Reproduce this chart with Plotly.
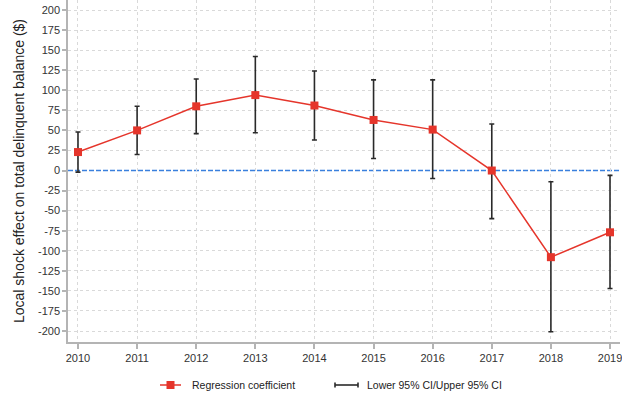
import plotly.graph_objects as go

# Event-study estimates by year
years = [2010, 2011, 2012, 2013, 2014, 2015, 2016, 2017, 2018, 2019]
coef = [23, 50, 80, 94, 81, 63, 51, 0, -108, -77]
ci_lower = [-2, 20, 46, 47, 38, 15, -10, -60, -201, -147]
ci_upper = [48, 80, 114, 142, 124, 113, 113, 58, -14, -6]

y_ticks = list(range(200, -201, -25))
y_tick_labels = [str(v) for v in y_ticks]  # plain hyphen for negatives
grid_ticks = [v for v in y_ticks if v != 0]  # zero gets the dashed reference line instead

err_plus = [u - c for u, c in zip(ci_upper, coef)]
err_minus = [c - l for c, l in zip(coef, ci_lower)]

FONT = "Liberation Sans, Arial, sans-serif"
RED = "#e5352b"
BAR = "#2a2a2a"
AXIS = "#b4b4b4"
GRID = "#d9d9d9"
Y_RANGE = [-213.7, 212.5]

fig = go.Figure()

# 95% confidence intervals
fig.add_trace(go.Scatter(
    x=years, y=coef, mode="markers",
    marker=dict(size=1, color="rgba(0,0,0,0)"),
    error_y=dict(type="data", symmetric=False, array=err_plus, arrayminus=err_minus,
                 color=BAR, thickness=1.6, width=2.5),
    showlegend=False, hoverinfo="skip",
))

# Point estimates (on the overlay axis, which shares the same range)
fig.add_trace(go.Scatter(
    x=years, y=coef, mode="lines+markers", yaxis="y2",
    line=dict(color=RED, width=1.5),
    marker=dict(symbol="square", size=8, color=RED),
    showlegend=False,
))

# Reference line at zero
fig.add_shape(type="line", xref="paper", x0=0, x1=1, yref="y", y0=0, y1=0,
              line=dict(color="#3a80dd", width=1.6, dash="5px,2px"), layer="between")

# Legend drawn in pixel-aligned paper coordinates
W, H = 622, 398
L, R, T, B = 68, 2, 0, 56
pw, ph = W - L - R, H - T - B


def px(x):
    return (x - L) / pw


def py(y):
    return 1 - (y - T) / ph


ly = 385
fig.add_shape(type="line", xref="paper", yref="paper", x0=px(160), x1=px(181),
              y0=py(ly), y1=py(ly), line=dict(color=RED, width=1.5))
fig.add_shape(type="rect", xref="paper", yref="paper", x0=px(166.5), x1=px(174.5),
              y0=py(ly + 4), y1=py(ly - 4), line=dict(width=0), fillcolor=RED)
fig.add_annotation(xref="paper", yref="paper", x=px(190), y=py(ly), text="Regression coefficient",
                   showarrow=False, xanchor="left", yanchor="middle",
                   font=dict(family=FONT, size=10.5, color="#222"))
fig.add_shape(type="line", xref="paper", yref="paper", x0=px(335), x1=px(358),
              y0=py(ly), y1=py(ly), line=dict(color=BAR, width=1.6))
for xc in (335, 358):
    fig.add_shape(type="line", xref="paper", yref="paper", x0=px(xc), x1=px(xc),
                  y0=py(ly - 2.5), y1=py(ly + 2.5), line=dict(color=BAR, width=1.6))
fig.add_annotation(xref="paper", yref="paper", x=px(365), y=py(ly), text="Lower 95% CI/Upper 95% CI",
                   showarrow=False, xanchor="left", yanchor="middle",
                   font=dict(family=FONT, size=10.5, color="#222"))

fig.update_layout(
    width=W, height=H,
    margin=dict(l=L, r=R, t=T, b=B, pad=0),
    paper_bgcolor="white", plot_bgcolor="white",
    font=dict(family=FONT, size=11, color="#333"),
    xaxis=dict(
        range=[2009.831, 2019.169], tickvals=years, ticktext=[str(y) for y in years],
        showgrid=True, gridcolor=GRID, griddash="dot", gridwidth=1,
        showline=True, linecolor=AXIS, linewidth=1.5,
        ticks="outside", ticklen=5, tickcolor=AXIS, tickwidth=1.5,
        zeroline=False, tickfont=dict(size=11, color="#333"),
        ticklabeloverflow="allow",
    ),
    yaxis=dict(
        range=Y_RANGE, tickvals=y_ticks, ticktext=y_tick_labels,
        showgrid=False,
        showline=True, linecolor=AXIS, linewidth=1.5,
        ticks="outside", ticklen=4, tickcolor=AXIS, tickwidth=1.5,
        zeroline=False, tickfont=dict(size=11, color="#333"),
        ticklabeloverflow="allow",
        title=dict(text="Local shock effect on total delinquent balance ($)",
                   font=dict(size=14, color="#222"), standoff=10),
    ),
    # Overlay axis carrying the horizontal dotted gridlines
    yaxis2=dict(
        overlaying="y", side="left", range=Y_RANGE, tickvals=grid_ticks,
        showgrid=True, gridcolor=GRID, griddash="dot", gridwidth=1,
        showticklabels=False, ticks="", showline=False, zeroline=False,
    ),
)

fig.write_html("out.html")
